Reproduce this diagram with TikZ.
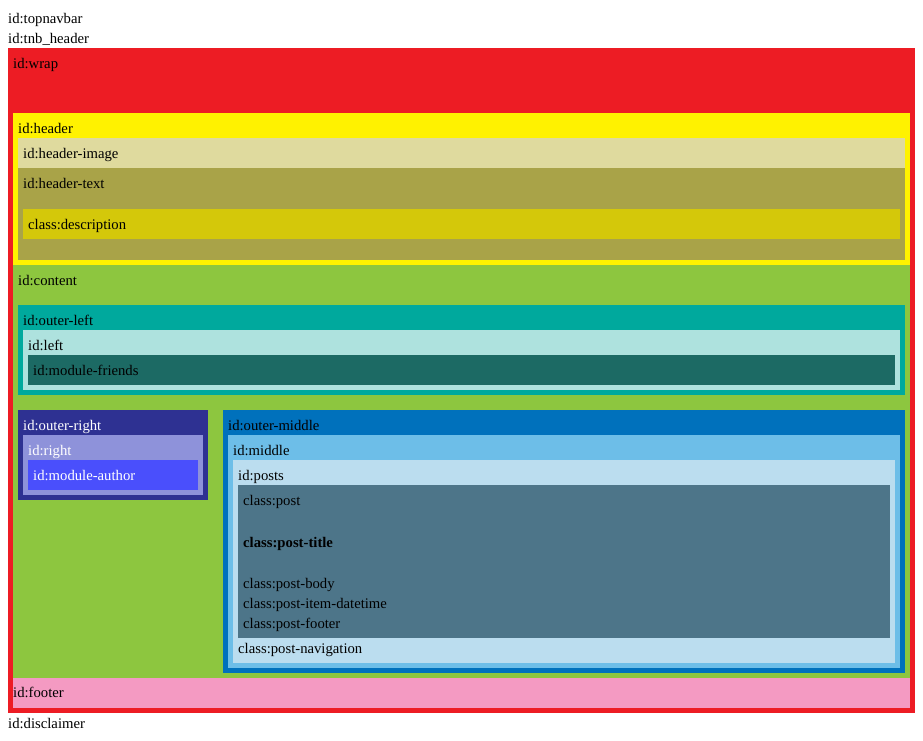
\documentclass[tikz,border=0pt]{standalone}
\usepackage{fontspec}
\setmainfont{Liberation Serif}
\definecolor{wrapred}{HTML}{ED1C24}
\definecolor{headyellow}{HTML}{FFF200}
\definecolor{himage}{HTML}{DFDA9E}
\definecolor{htext}{HTML}{A9A348}
\definecolor{descr}{HTML}{D4C80A}
\definecolor{contentgreen}{HTML}{8DC63F}
\definecolor{outerleft}{HTML}{00A99D}
\definecolor{leftc}{HTML}{AEE2DE}
\definecolor{friends}{HTML}{1C6A64}
\definecolor{outerright}{HTML}{2E3192}
\definecolor{rightc}{HTML}{8E92DA}
\definecolor{author}{HTML}{4A4FFC}
\definecolor{outermiddle}{HTML}{0071BC}
\definecolor{middlec}{HTML}{6DBEE8}
\definecolor{postsc}{HTML}{BBDDEF}
\definecolor{postc}{HTML}{4D7589}
\definecolor{footerpink}{HTML}{F49AC2}

\begin{document}
\begin{tikzpicture}[x=1pt, y=-1pt, lbl/.style={anchor=base west, inner sep=0pt, font=\fontsize{14.7}{17}\selectfont}, wlbl/.style={lbl, text=white}]
\useasboundingbox (0,0) rectangle (923,741);
\fill[wrapred] (8,48) rectangle (915,713);
\fill[headyellow] (13,113) rectangle (910,265);
\fill[himage] (18,138) rectangle (905,168);
\fill[htext] (18,168) rectangle (905,260);
\fill[descr] (23,209) rectangle (900,239);
\fill[contentgreen] (13,265) rectangle (910,678);
\fill[outerleft] (18,305) rectangle (905,395);
\fill[leftc] (23,330) rectangle (900,390);
\fill[friends] (28,355) rectangle (895,385);
\fill[outerright] (18,410) rectangle (208,500);
\fill[rightc] (23,435) rectangle (203,495);
\fill[author] (28,460) rectangle (198,490);
\fill[outermiddle] (223,410) rectangle (905,673);
\fill[middlec] (228,435) rectangle (900,668);
\fill[postsc] (233,460) rectangle (895,663);
\fill[postc] (238,485) rectangle (890,638);
\fill[footerpink] (13,678) rectangle (910,708);
\node[lbl] (topnavbar) at (8,24) {id:topnavbar};
\node[lbl] (tnbheader) at (8,44) {id:tnb\_header};
\node[lbl] (wrap) at (13,69) {id:wrap};
\node[lbl] (header) at (18,133.5) {id:header};
\node[lbl] (headerimage) at (23,158.5) {id:header-image};
\node[lbl] (headertext) at (23,188.5) {id:header-text};
\node[lbl] (description) at (28,229.5) {class:description};
\node[lbl] (content) at (18,285.5) {id:content};
\node[lbl] (outerleftlbl) at (23,325.5) {id:outer-left};
\node[lbl] (leftlbl) at (28,350.5) {id:left};
\node[lbl] (modulefriends) at (33,375.5) {id:module-friends};
\node[wlbl] (outerrightlbl) at (23,430.5) {id:outer-right};
\node[wlbl] (rightlbl) at (28,455.5) {id:right};
\node[wlbl] (moduleauthor) at (33,480.5) {id:module-author};
\node[lbl] (outermiddlelbl) at (228,430.5) {id:outer-middle};
\node[lbl] (middlelbl) at (233,455.5) {id:middle};
\node[lbl] (postslbl) at (238,480.5) {id:posts};
\node[lbl] (post) at (243,505.5) {class:post};
\node[lbl, font=\fontsize{14.7}{17}\selectfont\bfseries] (posttitle) at (243,547.5) {class:post-title};
\node[lbl] (postbody) at (243,588.5) {class:post-body};
\node[lbl] (postdatetime) at (243,608.5) {class:post-item-datetime};
\node[lbl] (postfooter) at (243,628.5) {class:post-footer};
\node[lbl] (postnavigation) at (238,653.5) {class:post-navigation};
\node[lbl] (footer) at (13,697.5) {id:footer};
\node[lbl] (disclaimer) at (8,728.5) {id:disclaimer};
\end{tikzpicture}
\end{document}
